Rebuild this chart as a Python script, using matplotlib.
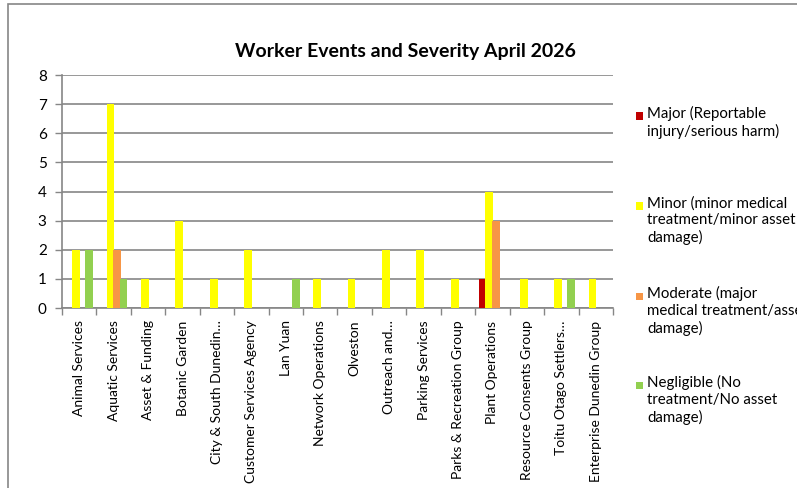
import numpy as np
import matplotlib
matplotlib.use("Agg")
import matplotlib.pyplot as plt
from matplotlib.patches import Rectangle

plt.rcParams['font.family'] = ['Lato', 'DejaVu Sans']

# dati
categorie = ["Animal Services", "Aquatic Services", "Asset & Funding", "Botanic Garden",
             "City & South Dunedin\u2026", "Customer Services Agency", "Lan Yuan",
             "Network Operations", "Olveston", "Outreach and\u2026", "Parking Services",
             "Parks & Recreation Group", "Plant Operations", "Resource Consents Group",
             "Toitu Otago Settlers\u2026", "Enterprise Dunedin Group"]

major      = [0, 0, 0, 0, 0, 0, 0, 0, 0, 0, 0, 0, 1, 0, 0, 0]
minor      = [2, 7, 1, 3, 1, 2, 0, 1, 1, 2, 2, 1, 4, 1, 1, 1]
moderate   = [0, 2, 0, 0, 0, 0, 0, 0, 0, 0, 0, 0, 3, 0, 0, 0]
negligible = [2, 1, 0, 0, 0, 0, 1, 0, 0, 0, 0, 0, 0, 0, 1, 0]

serie = [major, minor, moderate, negligible]
etichette = ["Major (Reportable\ninjury/serious harm)",
             "Minor (minor medical\ntreatment/minor asset\ndamage)",
             "Moderate (major\nmedical treatment/asset\ndamage)",
             "Negligible (No\ntreatment/No asset\ndamage)"]
colori = ["#C00000", "#FFFF00", "#F79646", "#92D050"]

W, H = 797, 488
fig = plt.figure(figsize=(W / 100, H / 100), dpi=100)
ax = fig.add_axes([62 / W, 1 - 308 / H, (613 - 62) / W, (308 - 75) / H])

x = np.arange(len(categorie))
passo = 0.19
larghezza = 0.225
for k, (vals, col) in enumerate(zip(serie, colori)):
    ax.bar(x + (k - 1.5) * passo, vals, width=larghezza, color=col, linewidth=0, zorder=3)

grigio = "#868686"
ax.set_xlim(-0.5, len(categorie) - 0.5)
ax.set_ylim(0, 8)
ax.set_yticks(range(0, 9))
ax.yaxis.grid(True, color=grigio, linewidth=1.2, zorder=0)
ax.set_xticks(x)
ax.set_xticklabels(categorie, rotation=90, fontsize=10)
ax.set_xticks(np.arange(-0.5, len(categorie)), minor=True)
ax.tick_params(axis='x', which='major', length=0, pad=9)
ax.tick_params(axis='x', which='minor', length=5, color=grigio, width=1)
ax.tick_params(axis='y', length=5, color=grigio, width=1, labelsize=11, pad=6)
for s in ['top', 'right']:
    ax.spines[s].set_visible(False)
for s in ['left', 'bottom']:
    ax.spines[s].set_color(grigio)
    ax.spines[s].set_linewidth(1.2)

fig.text(405 / W, 1 - 52 / H, "Worker Events and Severity April 2026",
         ha='center', va='center', fontsize=14, fontweight='bold')

# legenda disegnata a mano (a destra il testo esce dal bordo come nell'originale)
y_leg = [116, 206, 296, 385]
for lab, col, yy in zip(etichette, colori, y_leg):
    fig.patches.append(Rectangle((636 / W, 1 - (yy + 3.5) / H), 7 / W, 7 / H,
                                 transform=fig.transFigure, color=col, lw=0))
    fig.text(647 / W, 1 - (yy - 10) / H, lab, ha='left', va='top', fontsize=10.8,
             linespacing=1.25)

# bordo del grafico
fig.patches.append(Rectangle((8 / W, -0.1), 1.2, 1.1 - 4 / H, transform=fig.transFigure,
                             fill=False, edgecolor=grigio, lw=1.2))

fig.savefig("out.png", dpi=100)
